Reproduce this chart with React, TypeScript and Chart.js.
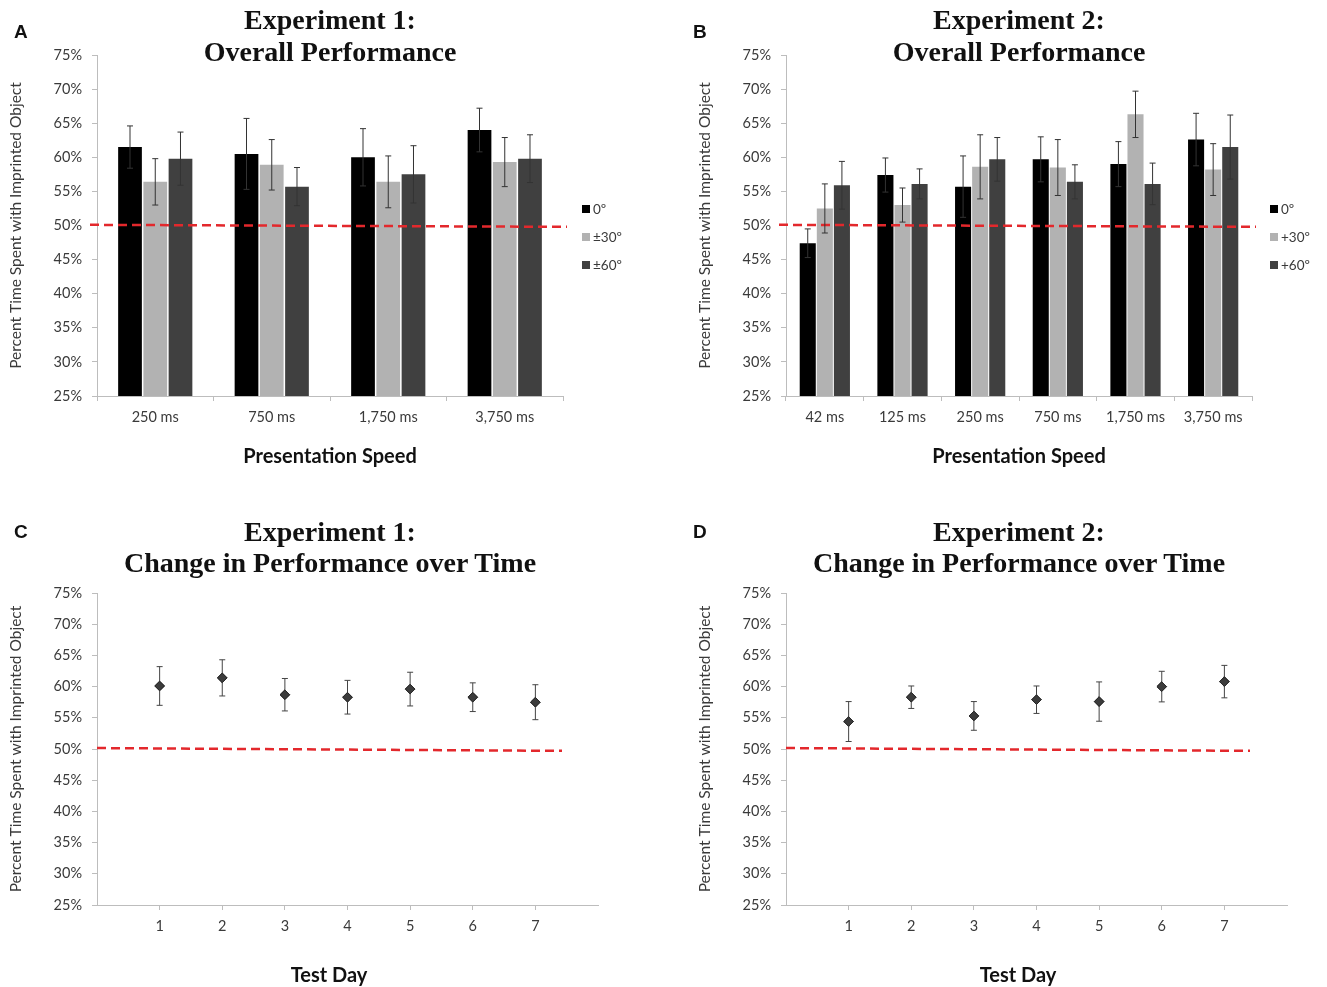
import React, { useEffect, useRef } from "react";
import { Chart, registerables } from "chart.js";

Chart.register(...registerables);

// ---------- Data ----------
const EXP1_SPEEDS = ["250 ms", "750 ms", "1,750 ms", "3,750 ms"];
const EXP1_CONDITIONS = ["0º", "±30º", "±60º"];
const EXP1_0 = [61.5, 60.5, 60.0, 64.0];
const EXP1_0_ERR = [3.1, 5.2, 4.2, 3.2];
const EXP1_30 = [56.4, 58.9, 56.4, 59.3];
const EXP1_30_ERR = [3.4, 3.7, 3.8, 3.6];
const EXP1_60 = [59.8, 55.7, 57.5, 59.8];
const EXP1_60_ERR = [3.9, 2.8, 4.2, 3.5];

const EXP2_SPEEDS = ["42 ms", "125 ms", "250 ms", "750 ms", "1,750 ms", "3,750 ms"];
const EXP2_CONDITIONS = ["0º", "+30º", "+60º"];
const EXP2_0 = [47.4, 57.4, 55.7, 59.7, 59.0, 62.6];
const EXP2_0_ERR = [2.1, 2.5, 4.5, 3.3, 3.3, 3.85];
const EXP2_30 = [52.5, 53.0, 58.6, 58.5, 66.3, 58.2];
const EXP2_30_ERR = [3.6, 2.5, 4.7, 4.1, 3.4, 3.8];
const EXP2_60 = [55.9, 56.1, 59.7, 56.4, 56.1, 61.5];
const EXP2_60_ERR = [3.5, 2.2, 3.2, 2.5, 3.05, 4.7];

const TEST_DAYS = [1, 2, 3, 4, 5, 6, 7];
const EXP1_DAY = [60.1, 61.4, 58.7, 58.3, 59.6, 58.3, 57.5];
const EXP1_DAY_ERR = [3.1, 2.9, 2.6, 2.7, 2.7, 2.3, 2.8];
const EXP2_DAY = [54.4, 58.3, 55.3, 57.9, 57.6, 60.0, 60.8];
const EXP2_DAY_ERR = [3.2, 1.8, 2.3, 2.2, 3.15, 2.45, 2.6];

const Y_MIN = 25;
const Y_MAX = 75;
const Y_STEP = 5;
const CHANCE_LEVEL = 50;

const Y_TITLE = "Percent Time Spent with Imprinted Object";

// ---------- Styles ----------
const BAR_COLORS = ["#000000", "#b2b2b2", "#404040"];
const AXIS_COLOR = "#bdbdbd";
const TICK_COLOR = "#3a3a3a";
const TICK_FONT = { family: "Lato", size: 14.5 };

// ---------- Plugins ----------
const errorBarPlugin = {
  id: "errorBars",
  afterDatasetsDraw(chart: any, _args: any, opts: any) {
    const { ctx } = chart;
    const y = chart.scales.y;
    chart.data.datasets.forEach((ds: any, di: number) => {
      const errs = ds.errors;
      if (!errs) return;
      const meta = chart.getDatasetMeta(di);
      meta.data.forEach((el: any, i: number) => {
        const raw = ds.data[i];
        const v = typeof raw === "number" ? raw : raw.y;
        const top = y.getPixelForValue(v + errs[i]);
        const bot = y.getPixelForValue(v - errs[i]);
        const cap = opts.cap || 3;
        ctx.save();
        ctx.strokeStyle = opts.color || "#333";
        ctx.lineWidth = 1;
        ctx.beginPath();
        ctx.moveTo(el.x, top);
        ctx.lineTo(el.x, bot);
        ctx.moveTo(el.x - cap, top);
        ctx.lineTo(el.x + cap, top);
        ctx.moveTo(el.x - cap, bot);
        ctx.lineTo(el.x + cap, bot);
        ctx.stroke();
        ctx.restore();
      });
    });
    if (opts.redrawPoints) {
      chart.data.datasets.forEach((_ds: any, di: number) => {
        const meta = chart.getDatasetMeta(di);
        meta.data.forEach((el: any) => el.draw(ctx));
      });
    }
  },
};

const chancePlugin = {
  id: "chance",
  afterDatasetsDraw(chart: any, _args: any, opts: any) {
    const { ctx, chartArea } = chart;
    const y = chart.scales.y;
    const x0 = chartArea.left + opts.from;
    const x1 = chartArea.right + opts.to;
    ctx.save();
    ctx.strokeStyle = "#e3282c";
    ctx.lineWidth = 2.5;
    ctx.setLineDash([9, 5]);
    ctx.beginPath();
    ctx.moveTo(x0, y.getPixelForValue(CHANCE_LEVEL + opts.tiltStart));
    ctx.lineTo(x1, y.getPixelForValue(CHANCE_LEVEL + opts.tiltEnd));
    ctx.stroke();
    ctx.restore();
  },
};

const sideLegendPlugin = {
  id: "sideLegend",
  afterDraw(chart: any, _args: any, opts: any) {
    if (!opts || !opts.display) return;
    const { ctx, chartArea } = chart;
    chart.data.datasets.forEach((ds: any, i: number) => {
      const x = chartArea.right + opts.offsetX;
      const yc = opts.top + i * opts.spacing;
      ctx.save();
      ctx.fillStyle = ds.backgroundColor;
      ctx.fillRect(x, yc - 4, 8, 8);
      ctx.fillStyle = TICK_COLOR;
      ctx.font = "13.5px Lato";
      ctx.textBaseline = "middle";
      ctx.textAlign = "left";
      ctx.fillText(ds.label, x + 11, yc + 1);
      ctx.restore();
    });
  },
};

// ---------- Config builders ----------
function yScale() {
  return {
    min: Y_MIN,
    max: Y_MAX,
    ticks: {
      stepSize: Y_STEP,
      callback: (v: any) => v + "%",
      padding: 10,
      font: TICK_FONT,
      color: TICK_COLOR,
    },
    grid: { display: true, drawOnChartArea: false, drawTicks: true, tickLength: 5, color: AXIS_COLOR },
    border: { display: true, color: AXIS_COLOR },
    title: {
      display: true,
      text: Y_TITLE,
      font: { family: "Lato", size: 15.5 },
      color: TICK_COLOR,
      padding: { top: 7, bottom: 0 },
    },
    afterFit: (s: any) => {
      s.width = 97;
    },
  };
}

function barConfig(
  labels: string[],
  conditions: string[],
  series: number[][],
  errors: number[][],
  catPct: number,
  rightPad: number,
  legendOffset: number
) {
  return {
    type: "bar",
    data: {
      labels,
      datasets: series.map((vals, i) => ({
        label: conditions[i],
        data: vals,
        errors: errors[i],
        backgroundColor: BAR_COLORS[i],
        borderWidth: 0,
        categoryPercentage: catPct,
        barPercentage: 0.94,
      })),
    },
    options: {
      responsive: false,
      animation: false,
      events: [],
      layout: { padding: { top: 55, right: rightPad, bottom: 0, left: 0 } },
      plugins: {
        legend: { display: false },
        tooltip: { enabled: false },
        errorBars: { cap: 3, color: "#333" },
        chance: { from: -7, to: 4, tiltStart: 0.1, tiltEnd: -0.2 },
        sideLegend: { display: true, offsetX: legendOffset, top: 209, spacing: 28 },
      },
      scales: {
        x: {
          type: "category",
          grid: { display: true, offset: true, drawOnChartArea: false, drawTicks: true, tickLength: 5, color: AXIS_COLOR },
          border: { display: true, color: AXIS_COLOR },
          ticks: { font: TICK_FONT, color: TICK_COLOR, padding: 8, maxRotation: 0 },
          title: {
            display: true,
            text: "Presentation Speed",
            font: { family: "Lato", size: 20, weight: "bold" },
            color: "#111",
            padding: { top: 0, bottom: 21 },
          },
          afterFit: (s: any) => {
            s.height = 94;
          },
        },
        y: yScale(),
      },
    },
    plugins: [chancePlugin, errorBarPlugin, sideLegendPlugin],
  };
}

function dayConfig(values: number[], errors: number[], rightPad: number, chanceTo: number) {
  return {
    type: "scatter",
    data: {
      datasets: [
        {
          label: "Mean",
          data: TEST_DAYS.map((d, i) => ({ x: d, y: values[i] })),
          errors,
          pointStyle: "rectRot",
          radius: 4.8,
          backgroundColor: "#3c3c3c",
          borderColor: "#2a2a2a",
          borderWidth: 1,
          showLine: false,
        },
      ],
    },
    options: {
      responsive: false,
      animation: false,
      events: [],
      layout: { padding: { top: 103, right: rightPad, bottom: 0, left: 0 } },
      plugins: {
        legend: { display: false },
        tooltip: { enabled: false },
        errorBars: { cap: 3, color: "#444", redrawPoints: true },
        chance: { from: 0, to: chanceTo, tiltStart: 0.15, tiltEnd: -0.3 },
        sideLegend: { display: false },
      },
      scales: {
        x: {
          type: "linear",
          min: 0,
          max: TEST_DAYS.length + 1,
          afterBuildTicks: (s: any) => {
            s.ticks = TEST_DAYS.map((d) => ({ value: d }));
          },
          grid: { display: true, drawOnChartArea: false, drawTicks: true, tickLength: 5, color: AXIS_COLOR },
          border: { display: true, color: AXIS_COLOR },
          ticks: { font: TICK_FONT, color: TICK_COLOR, padding: 8, maxRotation: 0 },
          title: { display: false },
          afterFit: (s: any) => {
            s.height = 82;
          },
        },
        y: yScale(),
      },
    },
    plugins: [chancePlugin, errorBarPlugin],
  };
}

// ---------- Components ----------
function ChartCanvas({ left, top, width, height, makeConfig }: any) {
  const ref = useRef<HTMLCanvasElement>(null);
  useEffect(() => {
    const chart = new Chart(ref.current as HTMLCanvasElement, makeConfig());
    return () => chart.destroy();
  }, []);
  return (
    <canvas
      ref={ref}
      width={width}
      height={height}
      style={{ position: "absolute", left, top, width, height }}
    />
  );
}

function Title({ cx, top, lineHeight, lines }: any) {
  return (
    <div
      style={{
        position: "absolute",
        left: cx - 300,
        top,
        width: 600,
        textAlign: "center",
        fontFamily: '"Liberation Serif", "Times New Roman", serif',
        fontWeight: "bold",
        fontSize: 28,
        lineHeight: lineHeight + "px",
        color: "#111",
        whiteSpace: "nowrap",
      }}
    >
      {lines.map((l: string, i: number) => (
        <div key={i}>{l}</div>
      ))}
    </div>
  );
}

function AxisTitle({ cx, cy, text }: any) {
  return (
    <div
      style={{
        position: "absolute",
        left: cx - 150,
        top: cy - 12,
        width: 300,
        textAlign: "center",
        fontFamily: "Lato, sans-serif",
        fontWeight: "bold",
        fontSize: 20,
        lineHeight: "24px",
        color: "#111",
      }}
    >
      {text}
    </div>
  );
}

function Letter({ x, y, text }: any) {
  return (
    <div
      style={{
        position: "absolute",
        left: x,
        top: y,
        fontFamily: '"Liberation Sans", Arial, sans-serif',
        fontWeight: "bold",
        fontSize: 19,
        lineHeight: "22px",
        color: "#111",
      }}
    >
      {text}
    </div>
  );
}

export default function App() {
  return (
    <div
      style={{
        position: "absolute",
        left: 0,
        top: 0,
        width: 1327,
        height: 987,
        background: "#fff",
        overflow: "hidden",
      }}
    >
      <ChartCanvas
        left={0}
        top={0}
        width={663}
        height={490}
        makeConfig={() =>
          barConfig(
            EXP1_SPEEDS,
            EXP1_CONDITIONS,
            [EXP1_0, EXP1_30, EXP1_60],
            [EXP1_0_ERR, EXP1_30_ERR, EXP1_60_ERR],
            0.65,
            100,
            19
          )
        }
      />
      <ChartCanvas
        left={689}
        top={0}
        width={638}
        height={490}
        makeConfig={() =>
          barConfig(
            EXP2_SPEEDS,
            EXP2_CONDITIONS,
            [EXP2_0, EXP2_30, EXP2_60],
            [EXP2_0_ERR, EXP2_30_ERR, EXP2_60_ERR],
            0.66,
            75,
            18
          )
        }
      />
      <ChartCanvas
        left={0}
        top={490}
        width={663}
        height={497}
        makeConfig={() => dayConfig(EXP1_DAY, EXP1_DAY_ERR, 65, -36)}
      />
      <ChartCanvas
        left={689}
        top={490}
        width={638}
        height={497}
        makeConfig={() => dayConfig(EXP2_DAY, EXP2_DAY_ERR, 40, -37)}
      />

      <Title cx={330} top={4} lineHeight={32} lines={["Experiment 1:", "Overall Performance"]} />
      <Title cx={1019} top={4} lineHeight={32} lines={["Experiment 2:", "Overall Performance"]} />
      <Title cx={330} top={516} lineHeight={31} lines={["Experiment 1:", "Change in Performance over Time"]} />
      <Title cx={1019} top={516} lineHeight={31} lines={["Experiment 2:", "Change in Performance over Time"]} />

      <AxisTitle cx={329} cy={974} text="Test Day" />
      <AxisTitle cx={1018} cy={974} text="Test Day" />

      <Letter x={14} y={21} text="A" />
      <Letter x={693} y={21} text="B" />
      <Letter x={14} y={521} text="C" />
      <Letter x={693} y={521} text="D" />
    </div>
  );
}
